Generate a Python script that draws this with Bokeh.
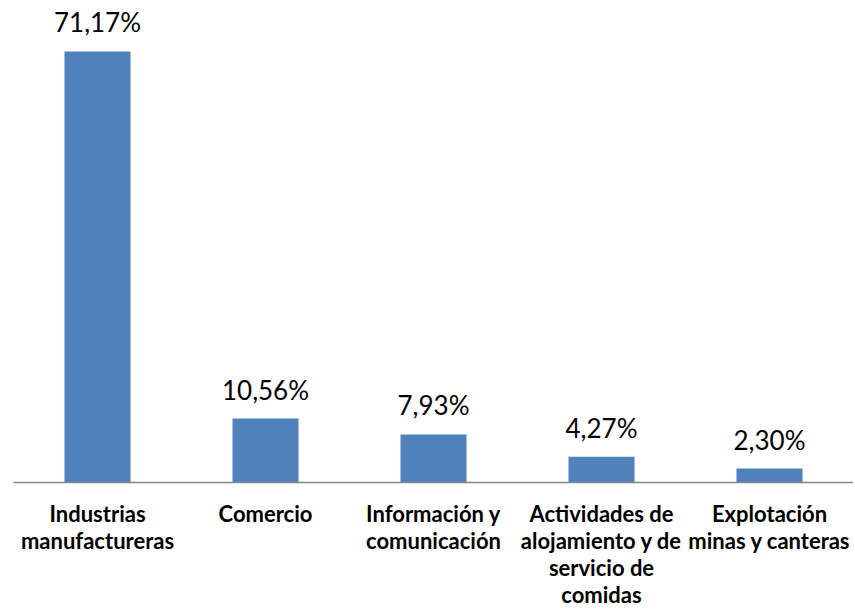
from bokeh.plotting import figure
from bokeh.models import Range1d, FixedTicker, ColumnDataSource
from bokeh.embed import file_html
from bokeh.resources import INLINE
from bokeh.core.properties import value

categories = [
    "Industrias\nmanufactureras",
    "Comercio",
    "Información y\ncomunicación",
    "Actividades de\nalojamiento y de\nservicio de\ncomidas",
    "Explotación\nminas y canteras",
]
values = [71.17, 10.56, 7.93, 4.27, 2.30]
value_labels = ["71,17%", "10,56%", "7,93%", "4,27%", "2,30%"]

positions = list(range(len(categories)))
src = ColumnDataSource(dict(x=positions, top=values, lab=value_labels))

p = figure(
    frame_width=840, frame_height=482,
    x_range=Range1d(-0.5, 4.5), y_range=Range1d(0, 79.59),
    output_backend="svg", toolbar_location=None,
    min_border_left=13, min_border_right=0, min_border_top=0, min_border_bottom=0,
)
p.vbar(x="x", top="top", width=0.393, source=src, fill_color="#4F81BD", line_color=None)
p.text(x="x", y="top", text="lab", source=src, y_offset=-29,
       text_align="center", text_baseline="alphabetic",
       text_font=value("Lato"), text_font_size="26px", text_color="#000000")

p.yaxis.visible = False
p.xgrid.visible = False
p.ygrid.visible = False
p.outline_line_color = None

ax = p.xaxis[0]
ax.ticker = FixedTicker(ticks=positions)
ax.major_label_overrides = {i: c for i, c in zip(positions, categories)}
ax.major_tick_line_color = None
ax.minor_tick_line_color = None
ax.axis_line_color = "#868686"
ax.axis_line_width = 1.5
ax.major_label_text_font = "Lato"
ax.major_label_text_font_style = "bold"
ax.major_label_text_font_size = "22px"
ax.major_label_text_line_height = 1.0
ax.major_label_text_color = "#000000"
ax.major_label_standoff = 11

open("out.html", "w").write(file_html(p, INLINE))
